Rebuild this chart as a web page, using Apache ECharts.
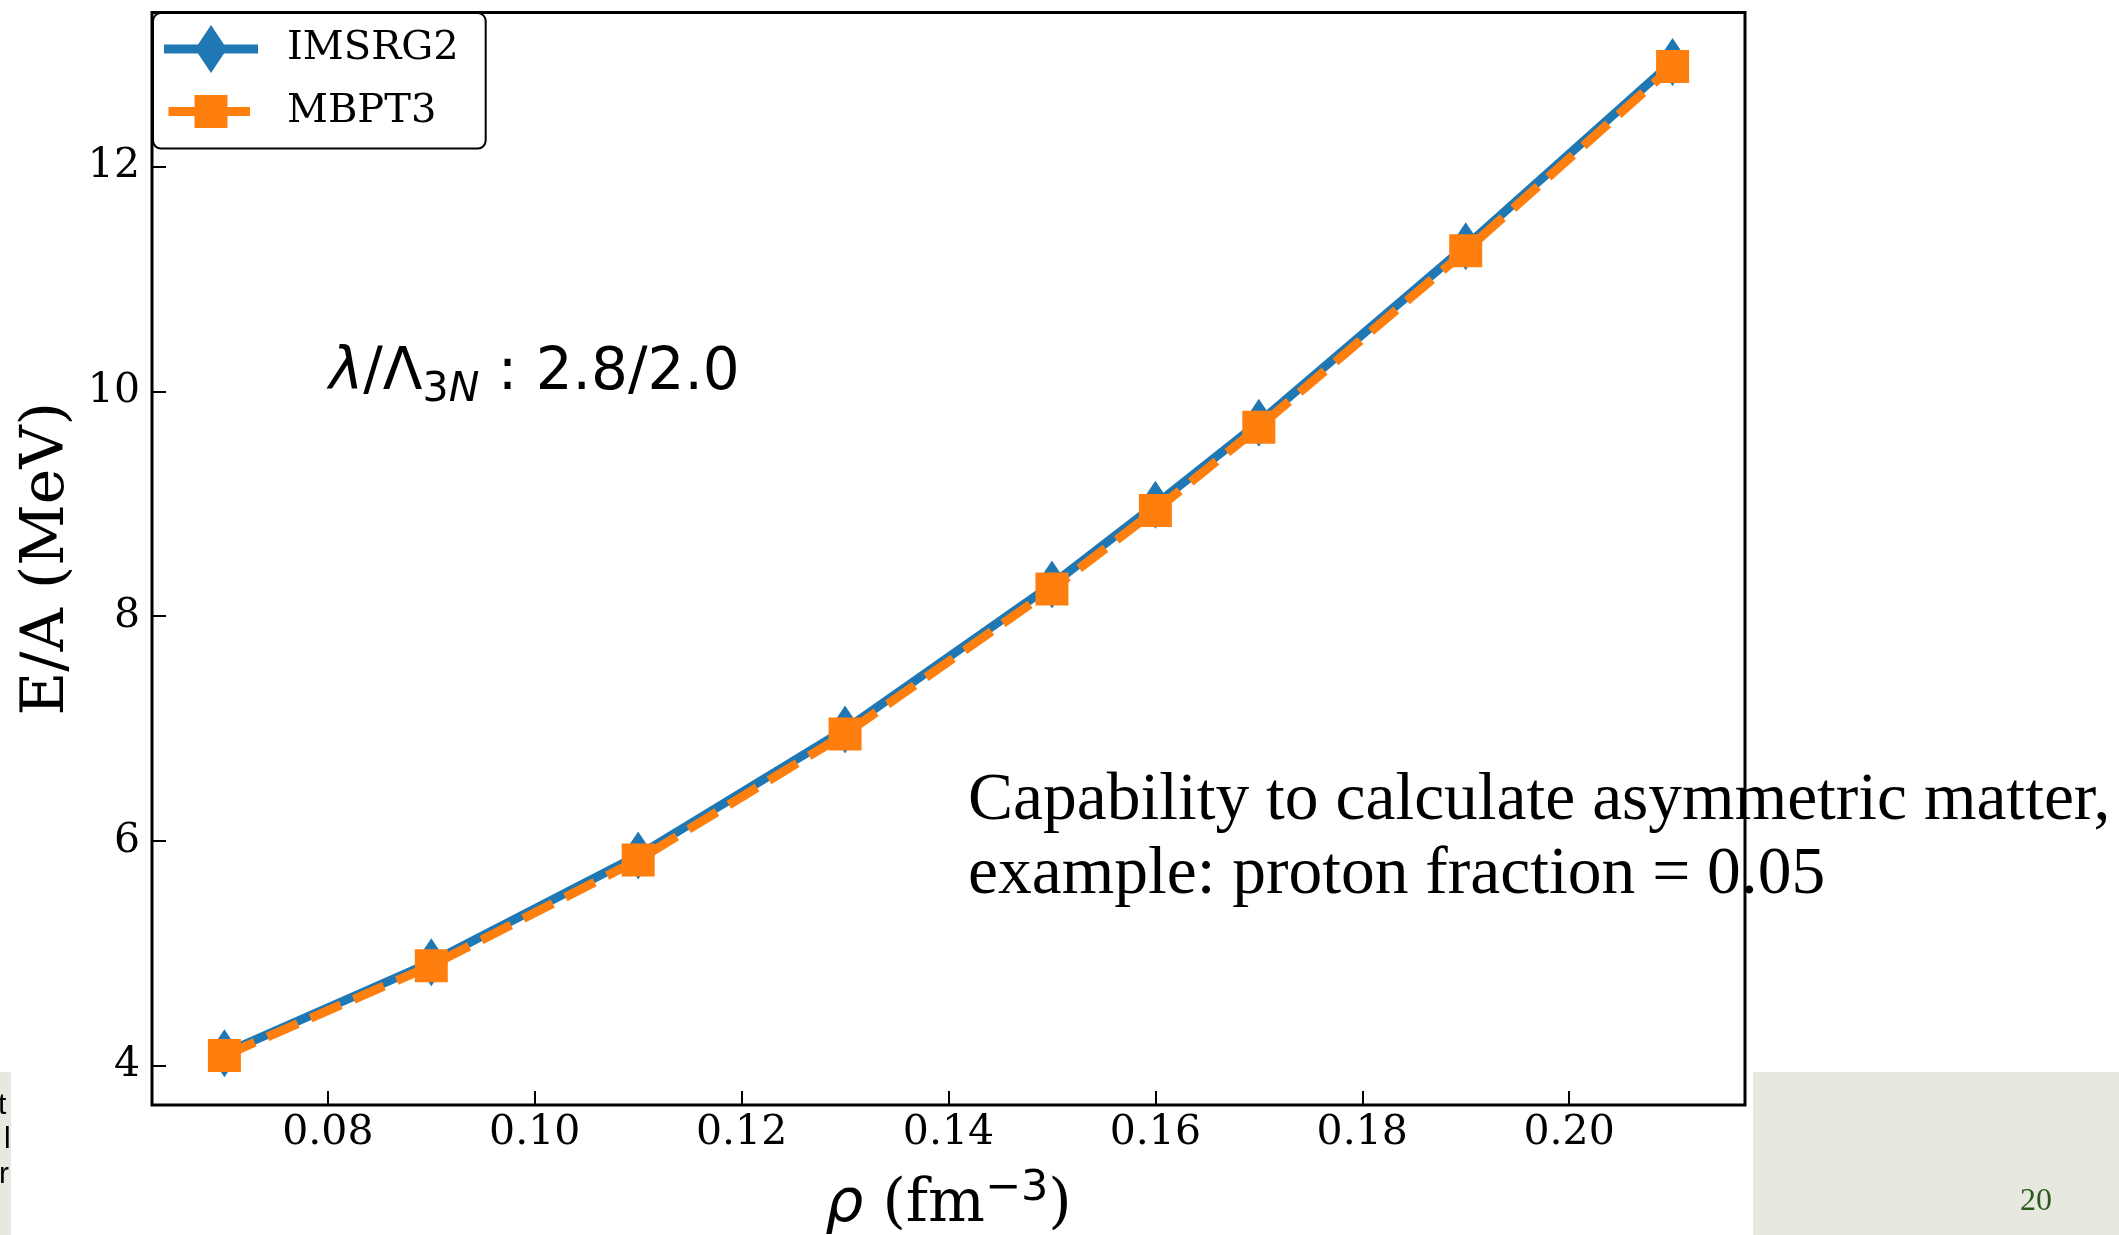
<!DOCTYPE html>
<html>
<head>
<meta charset="utf-8">
<script src="https://cdn.jsdelivr.net/npm/echarts@6/dist/echarts.min.js"></script>
<style>
html,body{margin:0;padding:0;background:#fff;}
#chart{width:2119px;height:1235px;}
</style>
</head>
<body>
<div id="chart"></div>
<script>
// ---- data ----
const rho = [0.07, 0.09, 0.11, 0.13, 0.15, 0.16, 0.17, 0.19, 0.21];
const imsrg2 = [4.11, 4.92, 5.87, 6.99, 8.28, 8.99, 9.72, 11.29, 12.93];
const mbpt3 = [4.09, 4.89, 5.83, 6.95, 8.24, 8.94, 9.68, 11.25, 12.89];
const xTicks = [0.08, 0.10, 0.12, 0.14, 0.16, 0.18, 0.20];
const yTicks = [4, 6, 8, 10, 12];
const seriesNames = ['IMSRG2', 'MBPT3'];

const chart = echarts.init(document.getElementById('chart'), null, {renderer: 'canvas'});

const serif = 'DejaVu Serif';
const sans = 'DejaVu Sans';

const option = {
  backgroundColor: '#ffffff',
  animation: false,
  grid: {
    left: 152, right: 374, top: 12.5, bottom: 130,
    show: true, borderColor: '#000', borderWidth: 3, backgroundColor: 'transparent',
    containLabel: false, outerBoundsMode: 'none'
  },
  legend: {
    orient: 'vertical',
    left: 153, top: 13,
    padding: [12, 27, 13, 11],
    itemWidth: 94, itemHeight: 48, itemGap: 14.6,
    backgroundColor: '#fff',
    borderColor: '#000', borderWidth: 2, borderRadius: 8,
    itemStyle: {borderWidth: 0},
    textStyle: {fontFamily: serif, fontSize: 40, color: '#000', padding: [3, 0, 0, 24]},
    data: [
      {name: seriesNames[0], icon: 'path://M0,19.5L94,19.5L94,28.5L0,28.5Z M47,0L63,24L47,48L31,24Z'},
      {name: seriesNames[1], icon: 'path://M0,0L0.01,0L0,0.01Z M94,48L93.99,48L94,47.99Z M4.5,19.5L86,19.5L86,28.5L4.5,28.5Z M30.5,7.5L63.5,7.5L63.5,40.5L30.5,40.5Z'}
    ]
  },
  xAxis: {
    type: 'value', min: 0.063, max: 0.217,
    axisLine: {show: false},
    splitLine: {show: false},
    axisTick: {show: true, inside: true, length: 14, lineStyle: {color: '#000', width: 2}, customValues: xTicks},
    axisLabel: {customValues: xTicks, formatter: v => v.toFixed(2), fontFamily: serif, fontSize: 41, color: '#000', margin: 8},
    name: '{i|ρ}{r| (fm}{s|−3}{r|)}',
    nameLocation: 'middle', nameGap: 62,
    nameTextStyle: {
      rich: {
        i: {fontFamily: sans, fontStyle: 'italic', fontSize: 60, color: '#000'},
        r: {fontFamily: serif, fontSize: 60, color: '#000'},
        s: {fontFamily: sans, fontSize: 43, color: '#000', padding: [0, 0, 33, 0]}
      }
    }
  },
  yAxis: {
    type: 'value', min: 3.65, max: 13.37,
    axisLine: {show: false},
    splitLine: {show: false},
    axisTick: {show: true, inside: true, length: 14, lineStyle: {color: '#000', width: 2}, customValues: yTicks},
    axisLabel: {customValues: yTicks, formatter: v => String(v), fontFamily: serif, fontSize: 41, color: '#000', margin: 12},
    name: 'E/A (MeV)',
    nameLocation: 'middle', nameGap: 73,
    nameTextStyle: {fontFamily: serif, fontSize: 60, color: '#000'}
  },
  series: [
    {
      name: seriesNames[0], type: 'line', z: 2,
      data: rho.map((x, i) => [x, imsrg2[i]]),
      symbol: 'diamond', symbolSize: [32, 48], showSymbol: true,
      lineStyle: {color: '#1f77b4', width: 9, cap: 'butt'},
      itemStyle: {color: '#1f77b4', borderWidth: 0},
      emphasis: {disabled: true}
    },
    {
      name: seriesNames[1], type: 'line', z: 3,
      data: rho.map((x, i) => [x, mbpt3[i]]),
      symbol: 'rect', symbolSize: 33, showSymbol: true,
      lineStyle: {color: '#ff7f0e', width: 9, type: [33, 14], cap: 'butt'},
      itemStyle: {color: '#ff7f0e', borderWidth: 0},
      emphasis: {disabled: true}
    }
  ],
  graphic: [
    {type: 'rect', shape: {x: 0, y: 1072, width: 11, height: 163}, style: {fill: '#e7e8e0'}, z: 0, silent: true},
    {type: 'rect', shape: {x: 1753, y: 1072, width: 366, height: 163}, style: {fill: '#e7e8e0'}, z: 0, silent: true},
    {type: 'text', x: -2, y: 1106, style: {text: 't', font: '30px "Liberation Sans"', fill: '#000', verticalAlign: 'middle'}, z: 1},
    {type: 'text', x: 4, y: 1140, style: {text: 'l', font: '30px "Liberation Sans"', fill: '#000', verticalAlign: 'middle'}, z: 1},
    {type: 'text', x: -1, y: 1175, style: {text: 'r', font: '30px "Liberation Sans"', fill: '#000', verticalAlign: 'middle'}, z: 1},
    {type: 'text', x: 2036, y: 1202, style: {text: '20', font: '32px "Liberation Serif"', fill: '#2d5a1b', align: 'center', verticalAlign: 'middle'}, z: 1},
    {
      type: 'text', x: 329, y: 374, z: 10,
      style: {
        text: '{li|λ}{r|/Λ}{sub|3}{subi|N}{r| : 2.8/2.0}',
        verticalAlign: 'middle', align: 'left',
        rich: {
          li: {fontFamily: sans, fontStyle: 'italic', fontSize: 58, fill: '#000'},
          r: {fontFamily: sans, fontSize: 58, fill: '#000'},
          sub: {fontFamily: sans, fontSize: 41, fill: '#000', padding: [32, 0, 0, 0]},
          subi: {fontFamily: sans, fontStyle: 'italic', fontSize: 41, fill: '#000', padding: [32, 0, 0, 0]}
        }
      }
    },
    {type: 'text', x: 968, y: 801, z: 10, style: {text: 'Capability to calculate asymmetric matter,', font: '67.5px "Liberation Serif"', fill: '#000', verticalAlign: 'middle'}},
    {type: 'text', x: 968, y: 875, z: 10, style: {text: 'example: proton fraction = 0.05', font: '67.5px "Liberation Serif"', fill: '#000', verticalAlign: 'middle'}}
  ]
};
chart.setOption(option);
</script>
</body>
</html>
